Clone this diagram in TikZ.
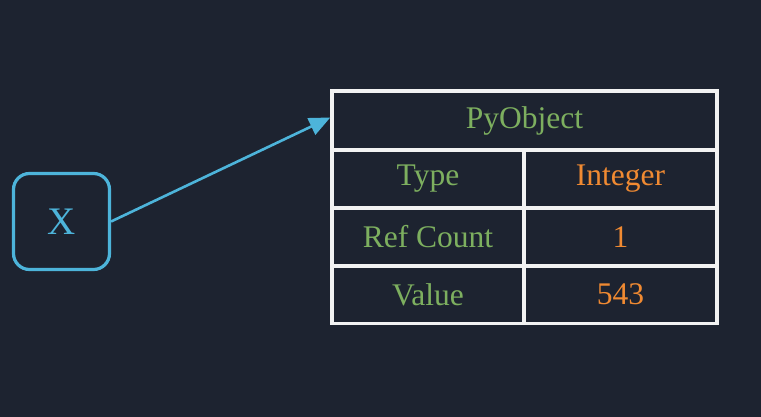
\documentclass[tikz,border=0pt]{standalone}
\usepackage{fontspec}
\setmainfont{Liberation Serif}
\usetikzlibrary{arrows.meta}
\definecolor{bg}{HTML}{1D2330}
\definecolor{xblue}{HTML}{4DB4DA}
\definecolor{tgreen}{HTML}{7DAF5F}
\definecolor{torange}{HTML}{F08A32}
\definecolor{grid}{HTML}{F2F2F2}
\tikzset{
  cell/.style={draw=grid, line width=3.4pt, inner sep=0pt, anchor=center, font=\fontsize{31.5}{31.5}\selectfont},
  lcell/.style={cell, minimum width=192pt, minimum height=58pt, text=tgreen},
  rcell/.style={cell, minimum width=193pt, minimum height=58pt, text=torange},
}
\begin{document}
\begin{tikzpicture}[x=1pt,y=-1pt]
\fill[bg] (0,0) rectangle (761,417);
\useasboundingbox (0,0) rectangle (761,417);
\node[draw=xblue, line width=3.2pt, rounded corners=16pt, minimum width=96pt, minimum height=96pt, text=xblue, font=\fontsize{39}{39}\selectfont] (x) at (61.5,221.5) {X};
\node[cell, minimum width=385pt, minimum height=59pt, text=tgreen] (py) at (524.5,120.5) {PyObject};
\node[lcell] (type) at (428,179) {Type};
\node[rcell] (int) at (620.5,179) {Integer};
\node[lcell] (ref) at (428,237) {Ref Count};
\node[rcell] (one) at (620.5,237) {1};
\node[lcell] (val) at (428,294.5) {Value};
\node[rcell] (num) at (620.5,294.5) {543};
\draw[xblue, line width=2.6pt, -{Triangle[length=21pt,width=18pt]}] (x.east) -- ([yshift=3pt]py.west);
\end{tikzpicture}
\end{document}
